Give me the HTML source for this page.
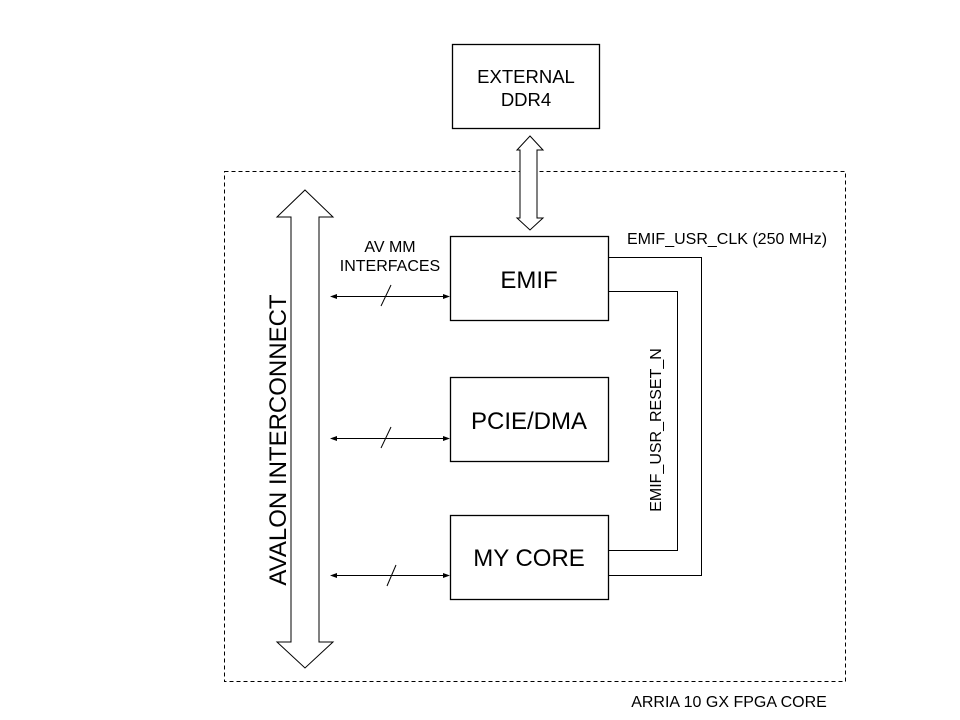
<!DOCTYPE html>
<html><head><style>body{margin:0;background:#fff}svg{display:block}</style></head><body>
<svg width="960" height="720" xmlns="http://www.w3.org/2000/svg" font-family="Liberation Sans, Arial, sans-serif" fill="none" stroke="#000">
<rect x="224.5" y="171.5" width="621" height="510" stroke-dasharray="4,3" stroke-width="1"/>
<rect x="452.5" y="44.5" width="147" height="84" stroke-width="1.3"/>
<text x="526" y="83" font-size="18.5" text-anchor="middle" fill="#000" stroke="none">EXTERNAL</text>
<text x="526" y="106" font-size="18.5" text-anchor="middle" fill="#000" stroke="none">DDR4</text>
<polygon points="530,136 543,150 537,150 537,218 543,218 530,230 517,218 520,218 520,150 517,150" stroke-width="1" fill="#fff"/>
<polygon points="305,190 333,217 319,217 319,642 333,642 305,668 277,642 291,642 291,217 277,217" stroke-width="1" fill="#fff"/>
<text transform="translate(286,440) rotate(-90)" font-size="24" text-anchor="middle" fill="#000" stroke="none">AVALON INTERCONNECT</text>
<rect x="450.5" y="236.5" width="158" height="84" stroke-width="1.3"/>
<text x="529" y="288" font-size="24" text-anchor="middle" fill="#000" stroke="none">EMIF</text>
<rect x="450.5" y="377.5" width="158" height="84" stroke-width="1.3"/>
<text x="529" y="429" font-size="24" text-anchor="middle" fill="#000" stroke="none">PCIE/DMA</text>
<rect x="450.5" y="515.5" width="158" height="84" stroke-width="1.3"/>
<text x="529" y="566" font-size="24" text-anchor="middle" fill="#000" stroke="none">MY CORE</text>
<text x="390" y="252" font-size="16" text-anchor="middle" fill="#000" stroke="none">AV MM</text>
<text x="390" y="271" font-size="16" text-anchor="middle" fill="#000" stroke="none">INTERFACES</text>
<g stroke-width="1">
<line x1="333" y1="296.5" x2="447" y2="296.5"/><line x1="381" y1="306" x2="391" y2="285"/>
<line x1="333" y1="438.5" x2="447" y2="438.5"/><line x1="381" y1="448" x2="391" y2="427"/>
<line x1="333" y1="575.5" x2="447" y2="575.5"/><line x1="387" y1="586" x2="396" y2="565"/>
</g>
<g fill="#000" stroke="none">
<polygon points="330,296.5 337,294 337,299"/><polygon points="450,296.5 443,294 443,299"/>
<polygon points="330,438.5 337,436 337,441"/><polygon points="450,438.5 443,436 443,441"/>
<polygon points="330,575.5 337,573 337,578"/><polygon points="450,575.5 443,573 443,578"/>
</g>
<polyline points="608,257.5 701.5,257.5 701.5,575.5 608,575.5" stroke-width="1"/>
<polyline points="608,291.5 677.5,291.5 677.5,550.5 608,550.5" stroke-width="1"/>
<text x="727" y="244" font-size="16" text-anchor="middle" fill="#000" stroke="none">EMIF_USR_CLK (250 MHz)</text>
<text transform="translate(661,430) rotate(-90)" font-size="16" text-anchor="middle" fill="#000" stroke="none">EMIF_USR_RESET_N</text>
<text x="729" y="707" font-size="16" text-anchor="middle" fill="#000" stroke="none">ARRIA 10 GX FPGA CORE</text>
</svg>
</body></html>
